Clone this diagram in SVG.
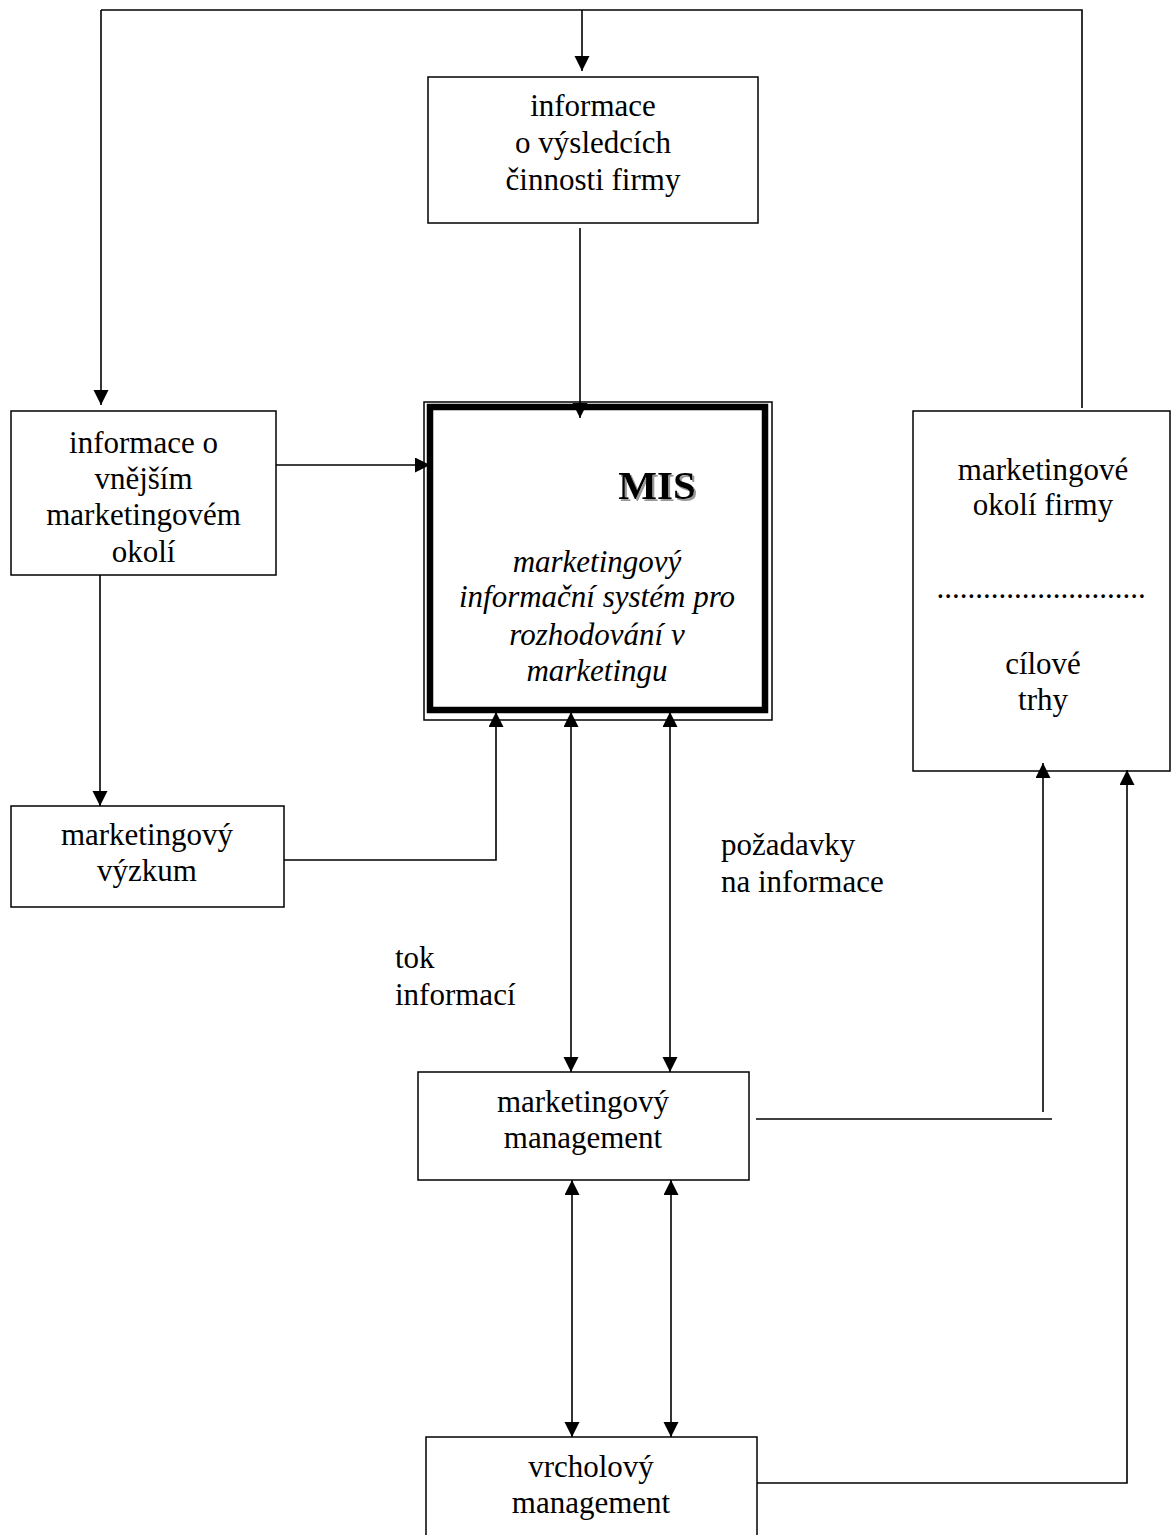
<svg xmlns="http://www.w3.org/2000/svg" width="1171" height="1535" viewBox="0 0 1171 1535">
<style>
.box{fill:#fff;stroke:#000;stroke-width:1.5}
.t{font-family:"Liberation Serif","Times New Roman",serif;font-size:31px;fill:#000;text-anchor:middle}
.l{font-family:"Liberation Serif","Times New Roman",serif;font-size:31px;fill:#000}
.it{font-style:italic}
.mis{font-weight:bold;font-size:41px}
.c{fill:none;stroke:#000;stroke-width:1.6}
</style>
<defs>
<marker id="ah" markerUnits="userSpaceOnUse" markerWidth="16" markerHeight="16" refX="15" refY="7.5" orient="auto-start-reverse" viewBox="0 0 16 16">
<path d="M0,0 L15,7.5 L0,15 z" fill="#000"/>
</marker>
<filter id="sh" x="-20%" y="-20%" width="140%" height="140%">
<feDropShadow dx="2" dy="2" stdDeviation="0.6" flood-color="#999" flood-opacity="1"/>
</filter>
</defs>
<rect width="1171" height="1535" fill="#fff"/>

<g id="node-vysledky">
<rect class="box" x="428" y="77" width="330" height="146"/>
<text class="t" x="593" y="116">informace</text>
<text class="t" x="593" y="153">o výsledcích</text>
<text class="t" x="593" y="190">činnosti firmy</text>
</g>

<g id="node-vnejsi">
<rect class="box" x="11" y="411" width="265" height="164"/>
<text class="t" x="143.5" y="453">informace o</text>
<text class="t" x="143.5" y="489">vnějším</text>
<text class="t" x="143.5" y="525">marketingovém</text>
<text class="t" x="143.5" y="562">okolí</text>
</g>

<g id="node-mis">
<rect x="424" y="402" width="348" height="318" fill="#fff" stroke="#000" stroke-width="1.5"/>
<rect x="430" y="407" width="335" height="303" fill="none" stroke="#000" stroke-width="6.5"/>
<text class="t mis" x="657" y="499" filter="url(#sh)">MIS</text>
<text class="t it" x="597" y="572">marketingový</text>
<text class="t it" x="597" y="607">informační systém pro</text>
<text class="t it" x="597" y="645">rozhodování v</text>
<text class="t it" x="597" y="681">marketingu</text>
</g>

<g id="node-okoli">
<rect class="box" x="913" y="411" width="257" height="360"/>
<text class="t" x="1043" y="480">marketingové</text>
<text class="t" x="1043" y="515">okolí firmy</text>
<text class="t" x="1041" y="598">...........................</text>
<text class="t" x="1043" y="674">cílové</text>
<text class="t" x="1043" y="710">trhy</text>
</g>

<g id="node-vyzkum">
<rect class="box" x="11" y="806" width="273" height="101"/>
<text class="t" x="147" y="845">marketingový</text>
<text class="t" x="147" y="881">výzkum</text>
</g>

<g id="node-management">
<rect class="box" x="418" y="1072" width="331" height="108"/>
<text class="t" x="583" y="1112">marketingový</text>
<text class="t" x="583" y="1148">management</text>
</g>

<g id="node-vrcholovy">
<rect class="box" x="426" y="1437" width="331" height="110"/>
<text class="t" x="591" y="1477">vrcholový</text>
<text class="t" x="591" y="1513">management</text>
</g>

<g id="labels">
<text class="l" x="721" y="855">požadavky</text>
<text class="l" x="721" y="892">na informace</text>
<text class="l" x="395" y="968">tok</text>
<text class="l" x="395" y="1005">informací</text>
</g>

<g id="connectors">
<path class="c" d="M101,10 H1082 V408"/>
<path class="c" d="M101,10 V405" marker-end="url(#ah)"/>
<path class="c" d="M582,10 V71" marker-end="url(#ah)"/>
<path class="c" d="M580,228 V418" marker-end="url(#ah)"/>
<path class="c" d="M276,465 H430" marker-end="url(#ah)"/>
<path class="c" d="M100,575 V806" marker-end="url(#ah)"/>
<path class="c" d="M284,860 H496 V712" marker-end="url(#ah)"/>
<path class="c" d="M571,712 V1072" marker-start="url(#ah)" marker-end="url(#ah)"/>
<path class="c" d="M670,712 V1072" marker-start="url(#ah)" marker-end="url(#ah)"/>
<path class="c" d="M572,1180 V1437" marker-start="url(#ah)" marker-end="url(#ah)"/>
<path class="c" d="M671,1180 V1437" marker-start="url(#ah)" marker-end="url(#ah)"/>
<path class="c" d="M756,1119 H1052"/>
<path class="c" d="M1043,1112 V763" marker-end="url(#ah)"/>
<path class="c" d="M757,1483 H1127 V770" marker-end="url(#ah)"/>
</g>
</svg>
